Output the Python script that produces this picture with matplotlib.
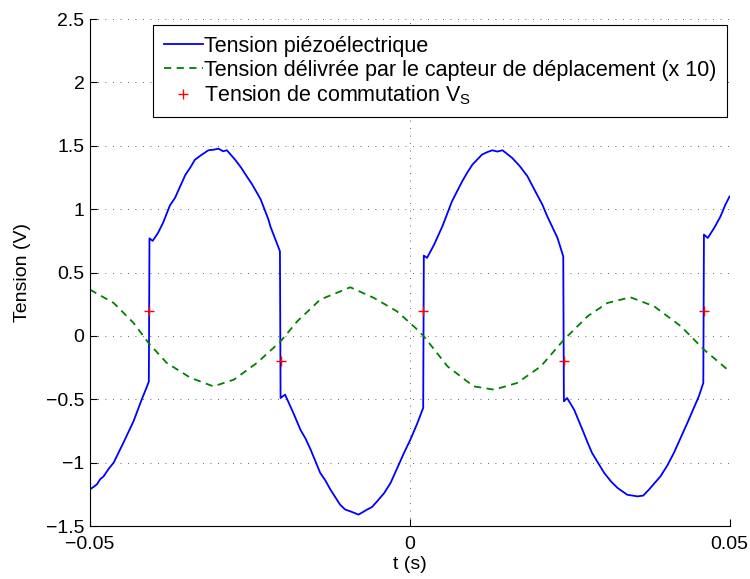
import matplotlib
matplotlib.use("Agg")
import matplotlib.pyplot as plt

plt.rcParams['font.family'] = ['Liberation Sans', 'DejaVu Sans']
plt.rcParams['mathtext.fontset'] = 'custom'
plt.rcParams['mathtext.rm'] = 'Liberation Sans'

# Piezoelectric voltage (V)
t_piezo = [-0.0500, -0.0494, -0.0489, -0.0484, -0.0479, -0.0471, -0.0463, -0.0448, -0.0432,
           -0.0419, -0.0411, -0.0408,
           -0.0407, -0.0402, -0.0394, -0.0386, -0.0375, -0.0367, -0.0359, -0.0351, -0.0343,
           -0.0336, -0.0328, -0.0315, -0.0306,
           -0.0299, -0.0292, -0.0286, -0.0273, -0.0264, -0.0255, -0.0247, -0.0239, -0.0233,
           -0.0221, -0.0218, -0.0203,
           -0.0202, -0.0195, -0.0182, -0.0171, -0.0163, -0.0155, -0.0140, -0.0132, -0.0124,
           -0.0109, -0.0101, -0.0093, -0.0080, -0.0067, -0.0059, -0.0051, -0.0040, -0.0030,
           -0.0009, 0.0001, 0.0012, 0.0021,
           0.0022, 0.0027, 0.0038, 0.0051, 0.0059, 0.0066, 0.0082, 0.0090, 0.0098, 0.0113,
           0.0121, 0.0129, 0.0137, 0.0145, 0.0160, 0.0172, 0.0184, 0.0199, 0.0207, 0.0215,
           0.0231, 0.0240,
           0.0241, 0.0246, 0.0257, 0.0270, 0.0278, 0.0285, 0.0304, 0.0315, 0.0325, 0.0340,
           0.0356, 0.0365, 0.0374, 0.0392, 0.0403, 0.0413, 0.0434, 0.0452, 0.0459,
           0.0460, 0.0466, 0.0476, 0.0486, 0.0493, 0.0500]
v_piezo = [-1.21, -1.19, -1.17, -1.13, -1.11, -1.05, -1.00, -0.845, -0.674,
           -0.50, -0.40, -0.36,
           0.77, 0.75, 0.81, 0.89, 1.03, 1.09, 1.18, 1.27, 1.33,
           1.39, 1.42, 1.465, 1.47,
           1.478, 1.457, 1.465, 1.39, 1.33, 1.26, 1.20, 1.13, 1.076,
           0.918, 0.865, 0.668,
           -0.49, -0.463, -0.608, -0.74, -0.81, -0.897, -1.081, -1.14, -1.213,
           -1.331, -1.37, -1.384, -1.41, -1.371, -1.35, -1.305, -1.24, -1.16,
           -0.923, -0.818, -0.687, -0.568,
           0.634, 0.616, 0.72, 0.865, 0.97, 1.062, 1.22, 1.29, 1.352, 1.431,
           1.45, 1.465, 1.455, 1.465, 1.405, 1.34, 1.26, 1.115, 1.04, 0.944,
           0.773, 0.628,
           -0.516, -0.49, -0.582, -0.74, -0.84, -0.923, -1.081, -1.15, -1.20, -1.253,
           -1.266, -1.26, -1.213, -1.108, -1.02, -0.923, -0.687, -0.477, -0.371,
           0.80, 0.773, 0.852, 0.944, 1.03, 1.10]

# Displacement sensor voltage (x 10)
t_disp = [-0.0500, -0.0463, -0.0432, -0.04085, -0.0380, -0.0343, -0.0307, -0.0275,
          -0.0239, -0.0202, -0.0176, -0.0140, -0.0093, -0.0056, -0.0020, 0.0009,
          0.0022, 0.0059, 0.0100, 0.0132, 0.0168, 0.0205, 0.0241, 0.0278, 0.0309,
          0.0345, 0.0382, 0.0424, 0.0460, 0.0500]
v_disp = [0.365, 0.26, 0.103, -0.055, -0.213, -0.33, -0.398, -0.345,
          -0.213, -0.043, 0.115, 0.287, 0.384, 0.30, 0.194, 0.063,
          -0.003, -0.24, -0.398, -0.424, -0.371, -0.24, -0.03, 0.155, 0.26,
          0.305, 0.234, 0.076, -0.108, -0.279]

# Switching voltage V_S
t_switch = [-0.0408, -0.0202, 0.0021, 0.0241, 0.0460]
v_switch = [0.2, -0.2, 0.2, -0.2, 0.2]

x_ticks = [-0.05, 0, 0.05]
x_ticklabels = ['\u22120.05', '0', '0.05']
y_ticks = [-1.5, -1, -0.5, 0, 0.5, 1, 1.5, 2, 2.5]
y_ticklabels = ['\u22121.5', '\u22121', '\u22120.5', '0', '0.5', '1', '1.5', '2', '2.5']

fig = plt.figure(figsize=(7.5, 5.79), dpi=100)
ax = fig.add_axes([0.12, 0.0915, 0.8527, 0.8755])

ax.plot(t_piezo, v_piezo, color='#0000ff', lw=1.3, label='Tension piézoélectrique')
ax.plot(t_disp, v_disp, color='#008000', lw=1.3, linestyle=(0, (4, 3)),
        label='Tension délivrée par le capteur de déplacement (x 10)')
ax.plot(t_switch, v_switch, linestyle='none', marker='+', color='#ff0000',
        markersize=7, mew=1.0, label=r'Tension de commutation V$_\mathregular{S}$')

ax.set_xlim(-0.05, 0.05)
ax.set_ylim(-1.5, 2.5)
ax.set_xticks(x_ticks)
ax.set_xticklabels(x_ticklabels)
ax.set_yticks(y_ticks)
ax.set_yticklabels(y_ticklabels)
ax.tick_params(direction='in', length=5, width=0.8, labelsize=14)
ax.tick_params(axis='x', pad=7)
ax.tick_params(axis='y', pad=4)
ax.grid(True, linestyle=(0, (1, 8)), color='#333333', lw=0.6)
ax.spines['top'].set_visible(False)
ax.spines['right'].set_visible(False)
ax.set_xlabel('t (s)', fontsize=14, labelpad=2)
ax.set_ylabel('Tension (V)', fontsize=14, labelpad=11)

leg = ax.legend(loc='upper right', bbox_to_anchor=(0.996, 0.988), borderaxespad=0,
                fontsize=15.5, frameon=True, fancybox=False, framealpha=1,
                edgecolor='black', handlelength=1.8, handletextpad=0.05,
                labelspacing=0.12, borderpad=0.5)
leg.get_frame().set_linewidth(0.8)

fig.savefig('out.png', dpi=100)
